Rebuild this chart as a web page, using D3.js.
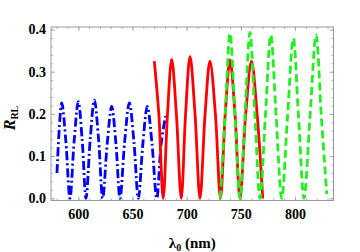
<!DOCTYPE html>
<html>
<head>
<meta charset="utf-8">
<script src="https://cdn.jsdelivr.net/npm/d3@7"></script>
<style>
  body { margin: 0; background: #fff; }
  svg text { font-family: "Liberation Serif", "Times New Roman", serif; font-weight: bold; }
</style>
</head>
<body>
<div id="chart-area"></div>
<script>
'use strict';

// wavelength (nm) and R_RL
let blueLambda = [580.3, 584.7, 588.5, 592.3, 596.2, 600, 603.6, 607.1, 611, 614.8, 618.7, 622.5,
    626.7, 630.8, 634.7, 638.5, 642.8, 647.1, 651.3, 655.4, 659.6, 663.7, 668, 672.4, 676.5, 680.5];
let blueR = [0.06, 0.226, 0.135, 0.0, 0.137, 0.229, 0.137, 0.0, 0.14, 0.233, 0.14, 0.0,
    0.13, 0.218, 0.13, 0.0, 0.135, 0.226, 0.135, 0.0, 0.13, 0.218, 0.13, 0.0, 0.13, 0.195];

let redLambda = [670.1, 674.3, 678.3, 682.3, 686.2, 690.5, 695, 699, 703.1, 707.7, 712.3, 717,
    721.5, 726.5, 731.2, 735.6, 740, 744.6, 749.2, 754.5, 759.8, 765, 770.2];
let redR = [0.325, 0.2, 0.0, 0.2, 0.329, 0.2, 0.0, 0.2, 0.336, 0.2, 0.0, 0.2,
    0.325, 0.2, 0.0, 0.2, 0.328, 0.2, 0.0, 0.2, 0.325, 0.2, 0.0];

let greenLambda = [731, 735.5, 740, 744.6, 749.2, 753.8, 758.4, 763, 767.7, 772.6, 777.6, 782.6,
    787.7, 793, 798.4, 803.3, 808.3, 813.8, 819.4, 824.3, 829.3];
let greenR = [0.0, 0.195, 0.391, 0.195, 0.0, 0.197, 0.393, 0.195, 0.0, 0.193, 0.387, 0.193,
    0.0, 0.19, 0.379, 0.19, 0.0, 0.193, 0.387, 0.193, 0.01];

let xTicks = [600, 650, 700, 750, 800];
let xMinor = d3.range(580, 840, 10);
let yTicks = [0.0, 0.1, 0.2, 0.3, 0.4];
let yMinor = d3.range(0, 0.41, 0.02);

let W = 360, H = 252;
let margin = { left: 51, right: 26.5, top: 27, bottom: 51.5 };
let w = W - margin.left - margin.right;
let h = H - margin.top - margin.bottom;

let svg = d3.select('#chart-area').append('svg')
    .attr('width', W)
    .attr('height', H);

let g = svg.append('g')
    .attr('transform', 'translate(' + margin.left + ',' + margin.top + ')');

let x = d3.scaleLinear().domain([574.8, 835.5]).range([0, w]);
let y = d3.scaleLinear().domain([-0.0052, 0.4059]).range([h, 0]);

let frameColor = '#999';

function styleAxis(sel) {
    sel.select('.domain').remove();
    sel.selectAll('.tick line').attr('stroke', frameColor).attr('stroke-width', 0.8);
    sel.selectAll('.tick text').attr('fill', '#000').attr('font-size', '14px');
}

// minor ticks on all sides
g.append('g').attr('transform', 'translate(0,' + h + ')')
    .call(d3.axisBottom(x).tickValues(xMinor).tickSize(-2).tickFormat(''))
    .call(styleAxis);
g.append('g')
    .call(d3.axisTop(x).tickValues(xMinor).tickSize(-2).tickFormat(''))
    .call(styleAxis);
g.append('g')
    .call(d3.axisLeft(y).tickValues(yMinor).tickSize(-2).tickFormat(''))
    .call(styleAxis);
g.append('g').attr('transform', 'translate(' + w + ',0)')
    .call(d3.axisRight(y).tickValues(yMinor).tickSize(-2).tickFormat(''))
    .call(styleAxis);

// major ticks
g.append('g').attr('transform', 'translate(0,' + h + ')')
    .call(d3.axisBottom(x).tickValues(xTicks).tickSize(-4).tickPadding(9).tickFormat(d3.format('d')))
    .call(styleAxis);
g.append('g')
    .call(d3.axisTop(x).tickValues(xTicks).tickSize(-4).tickFormat(''))
    .call(styleAxis);
g.append('g')
    .call(d3.axisLeft(y).tickValues(yTicks).tickSize(-4).tickPadding(5).tickFormat(d3.format('.1f')))
    .call(styleAxis);
g.append('g').attr('transform', 'translate(' + w + ',0)')
    .call(d3.axisRight(y).tickValues(yTicks).tickSize(-4).tickFormat(''))
    .call(styleAxis);

g.append('rect')
    .attr('width', w)
    .attr('height', h)
    .attr('fill', 'none')
    .attr('stroke', frameColor)
    .attr('stroke-width', 1);

let line = d3.line()
    .x(d => x(d[0]))
    .y(d => y(d[1]))
    .curve(d3.curveCatmullRom.alpha(0.5));

g.append('clipPath').attr('id', 'clip')
    .append('rect').attr('x', -2).attr('y', -2).attr('width', w + 4).attr('height', h + 4);

let series = [
    { lam: blueLambda, r: blueR, color: '#0000ff', dash: '9,3,2,3' },
    { lam: redLambda, r: redR, color: '#ff0000', dash: null },
    { lam: greenLambda, r: greenR, color: '#22ee22', dash: '8,4' },
];

series.forEach(s => {
    g.append('path')
        .datum(d3.zip(s.lam, s.r))
        .attr('d', line)
        .attr('fill', 'none')
        .attr('stroke', s.color)
        .attr('stroke-width', 2.8)
        .attr('stroke-dasharray', s.dash)
        .attr('clip-path', 'url(#clip)');
});

// axis titles
let xl = svg.append('text')
    .attr('x', margin.left + w / 2)
    .attr('y', 248)
    .attr('text-anchor', 'middle')
    .attr('font-size', '15px');
xl.append('tspan').text('λ');
xl.append('tspan').attr('font-size', '10px').attr('dy', 3).text('0');
xl.append('tspan').attr('dy', -3).text(' (nm)');

let yl = svg.append('text')
    .attr('transform', 'translate(15,118) rotate(-90)')
    .attr('text-anchor', 'middle')
    .attr('font-size', '16px');
yl.append('tspan').attr('font-style', 'italic').text('R');
yl.append('tspan').attr('font-size', '10px').attr('dy', 3).text('RL');
</script>
</body>
</html>
